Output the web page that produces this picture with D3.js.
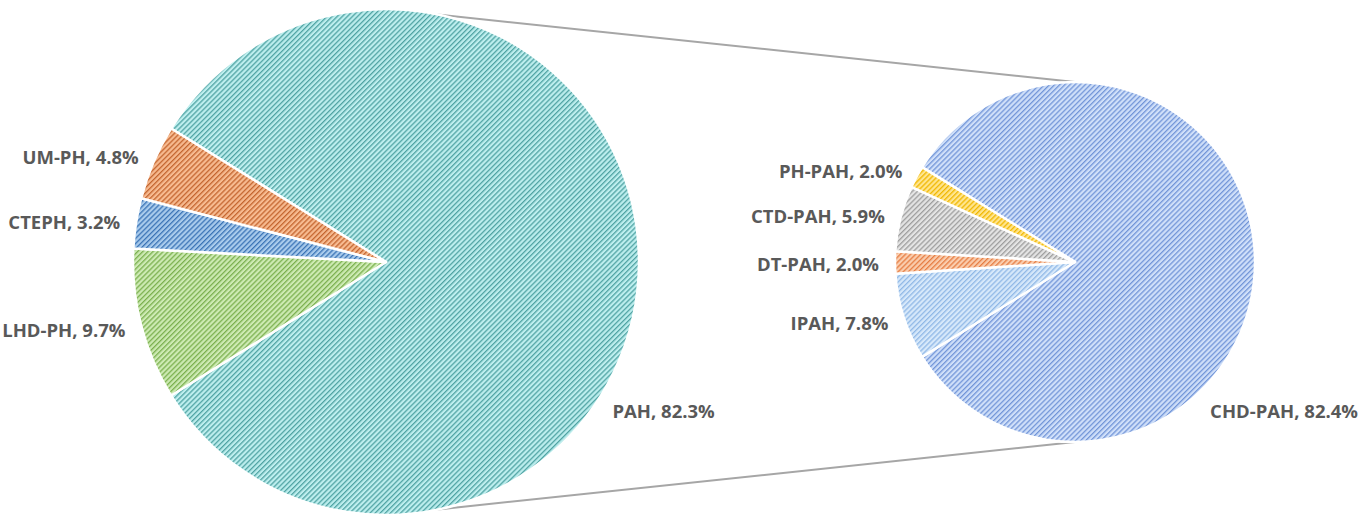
<!DOCTYPE html>
<html>
<head>
<meta charset="utf-8">
<script src="https://cdn.jsdelivr.net/npm/d3@7"></script>
<style>
  body { margin: 0; background: #fff; }
  text { font-family: "Open Sans", "Noto Sans", sans-serif; font-weight: 700; fill: #595959; }
</style>
</head>
<body>
<div class="container"></div>
<script>
// primary pie
var mainLabels = ["PAH", "LHD-PH", "CTEPH", "UM-PH"];
var mainValues = [82.3, 9.7, 3.2, 4.8];
var mainBg = ["#bdeeee", "#cdeab3", "#a9cbec", "#f7bb91"];
var mainStripe = ["#4fa3a3", "#7bb04f", "#3b74b6", "#c4652f"];

// secondary pie (breakdown of PAH)
var subLabels = ["CHD-PAH", "IPAH", "DT-PAH", "CTD-PAH", "PH-PAH"];
var subValues = [82.4, 7.8, 2.0, 5.9, 2.0];
var subBg = ["#cfdff9", "#d6e8fa", "#facdae", "#e4e4e4", "#ffe58f"];
var subStripe = ["#7295d8", "#90b8e6", "#e67d43", "#9e9e9e", "#f0b700"];

const WIDTH = 1364;
const HEIGHT = 530;

var pies = [
  {id: "m", cx: 386, cy: 262, r: 253, labels: mainLabels, values: mainValues,
   bg: mainBg, stripe: mainStripe, bigAngle: 123, bigPad: 17},
  {id: "s", cx: 1075, cy: 262, r: 180, labels: subLabels, values: subValues,
   bg: subBg, stripe: subStripe, bigAngle: 137.5, bigPad: 20}
];

var svg = d3.select('.container').append('svg')
  .attr('width', WIDTH)
  .attr('height', HEIGHT);

var defs = svg.append('defs');

var rad = function(deg){ return deg * Math.PI / 180; };

// connector lines, drawn first so the pies cover their ends
svg.append('line')
  .attr('x1', pies[0].cx).attr('y1', pies[0].cy - pies[0].r)
  .attr('x2', pies[1].cx).attr('y2', pies[1].cy - pies[1].r)
  .attr('stroke', '#a6a6a6').attr('stroke-width', 2);
svg.append('line')
  .attr('x1', pies[0].cx).attr('y1', pies[0].cy + pies[0].r)
  .attr('x2', pies[1].cx).attr('y2', pies[1].cy + pies[1].r)
  .attr('stroke', '#a6a6a6').attr('stroke-width', 2);

pies.forEach(function(p){
  // hatch patterns
  p.values.forEach(function(v, i){
    var pat = defs.append('pattern')
      .attr('id', 'hatch-' + p.id + i)
      .attr('patternUnits', 'userSpaceOnUse')
      .attr('width', 3.6).attr('height', 3.6)
      .attr('patternTransform', 'rotate(45)');
    pat.append('rect').attr('width', 3.6).attr('height', 3.6).attr('fill', p.bg[i]);
    pat.append('rect').attr('width', 1.3).attr('height', 3.6).attr('fill', p.stripe[i]);
  });

  var total = d3.sum(p.values);
  var span = p.values[0] / total * 2 * Math.PI;
  // first slice is centred on the 3 o'clock direction
  var start = Math.PI / 2 - span / 2;

  var pie = d3.pie().sort(null).value(function(d){ return d; })
    .startAngle(start).endAngle(start + 2 * Math.PI);
  var arcs = pie(p.values);

  var arc = d3.arc().innerRadius(0).outerRadius(p.r);

  var g = svg.append('g').attr('transform', 'translate(' + p.cx + ',' + p.cy + ')');

  g.selectAll('path')
    .data(arcs)
    .enter().append('path')
    .attr('d', arc)
    .attr('fill', function(d, i){ return 'url(#hatch-' + p.id + i + ')'; })
    .attr('stroke', '#fff')
    .attr('stroke-width', 2.5)
    .attr('stroke-linejoin', 'round');

  g.selectAll('text')
    .data(arcs)
    .enter().append('text')
    .attr('font-size', '18.5px')
    .attr('dy', '0.35em')
    .each(function(d, i){
      var a, rr, anchor;
      if (i === 0) {
        a = rad(p.bigAngle); rr = p.r + p.bigPad; anchor = 'start';
      } else {
        a = (d.startAngle + d.endAngle) / 2; rr = p.r + 16; anchor = 'end';
      }
      d3.select(this)
        .attr('x', rr * Math.sin(a))
        .attr('y', -rr * Math.cos(a) + 2)
        .attr('text-anchor', anchor)
        .text(p.labels[i] + ', ' + d3.format('.1f')(d.data) + '%');
    });
});
</script>
</body>
</html>
